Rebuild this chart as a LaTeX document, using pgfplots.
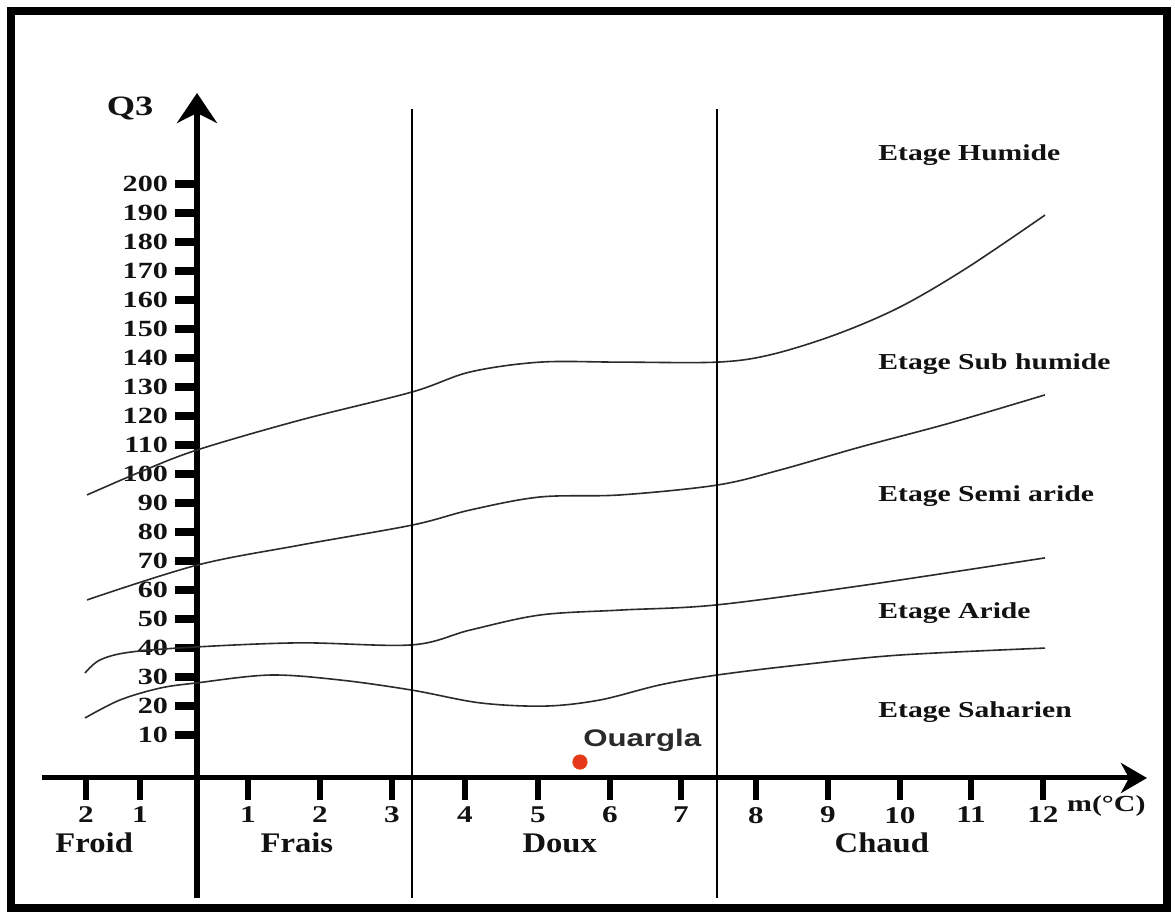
\documentclass[border=0pt]{standalone}
\usepackage{pgfplots}
\pgfplotsset{compat=1.18}
\usetikzlibrary{arrows.meta}
\usepackage{fontspec}
\setmainfont{Liberation Serif}[FakeStretch=1.3]
\newfontfamily\zonefont{Liberation Serif}[FakeStretch=1.15]
\newfontfamily\labelsans{Liberation Sans}[FakeStretch=1.3]

\definecolor{inkline}{HTML}{2B2B2B}
\definecolor{inktext}{HTML}{121212}
\definecolor{stationred}{HTML}{E5391B}

\begin{document}
\begin{tikzpicture}
% page and outer frame
\path[use as bounding box] (0,0) rectangle (587.5pt,459pt);
\draw[line width=4pt] (5.5pt,5pt) rectangle (583.5pt,453.5pt);

\begin{axis}[
  at={(21pt,10pt)}, anchor=south west,
  scale only axis, width=552.5pt, height=402.5pt,
  xmin=-2.141, xmax=13.122, ymin=-41.38, ymax=236.2,
  axis lines=middle,
  clip=false,
  axis line style={-},
  x axis line style={line width=2.5pt, -{Stealth[length=13pt,width=15pt,inset=4pt]}},
  y axis line style={line width=3pt, -{Stealth[length=15pt,width=20pt,inset=5pt]}},
  tick align=outside,
  major tick length=11pt,
  every tick/.append style={black},
  every x tick/.append style={line width=3.2pt},
  every y tick/.append style={line width=3.6pt},
  /pgf/number format/assume math mode=true,
  xtick={-1.533,-0.787,0.704,1.699,2.693,3.702,4.710,5.704,6.685,7.721,8.715,9.710,10.691,11.685},
  xticklabels={2,1,1,2,3,4,5,6,7,8,9,10,11,12},
  ytick={14.8,24.8,34.8,44.8,54.8,64.8,74.8,84.8,94.8,104.8,114.8,124.8,134.8,144.8,154.8,164.8,174.8,184.8,194.8,204.8},
  yticklabels={10,20,30,40,50,60,70,80,90,100,110,120,130,140,150,160,170,180,190,200},
  xticklabel style={font=\fontsize{12}{13}\selectfont\bfseries, text=inktext},
  yticklabel style={font=\fontsize{11.6}{13}\selectfont\bfseries, text=inktext},
]

% climatic zone boundaries
\addplot[inkline, line width=0.8pt, smooth, tension=0.55] coordinates {
  (-1.519,97.6) (-0.787,105.5) (0,113.1) (1.423,123.4) (2.970,133.1)
  (3.771,140.0) (4.738,143.4) (5.843,143.4) (7.182,143.4) (7.914,145.9)
  (8.812,152.8) (9.710,162.4) (10.635,175.9) (11.713,194.1)};
\addplot[inkline, line width=0.8pt, smooth, tension=0.55] coordinates {
  (-1.519,61.4) (0,73.4) (1.423,80.3) (2.970,87.2) (3.771,92.4)
  (4.738,96.9) (5.843,97.6) (7.182,101.0) (8.052,106.2) (9.157,114.1)
  (10.401,122.4) (11.713,132.1)};
\addplot[inkline, line width=0.8pt, smooth, tension=0.55] coordinates {
  (-1.547,36.2) (-1.340,40.7) (-0.925,43.4) (0,45.2) (1.423,46.6)
  (2.970,45.9) (3.771,51.0) (4.738,56.2) (5.843,57.9) (7.182,59.7)
  (9.254,66.6) (11.713,75.9)};
\addplot[inkline, line width=0.8pt, smooth, tension=0.55] coordinates {
  (-1.547,20.7) (-1.064,26.9) (-0.511,31.0) (0,32.8) (1.008,35.5)
  (1.975,33.8) (2.970,30.3) (3.909,25.9) (4.807,24.8) (5.566,26.9)
  (6.395,32.1) (7.182,35.5) (8.329,39.0) (9.710,42.4) (11.713,44.8)};

% thermal variant boundaries
\addplot[black, line width=1.2pt] coordinates {(2.970,-41.38) (2.970,230.7)};
\addplot[black, line width=1.2pt] coordinates {(7.182,-41.38) (7.182,230.7)};

% station
\addplot[only marks, mark=*, mark size=3.6pt, draw=stationred!80!orange, fill=stationred] coordinates {(5.29,5.5)};
\node[text=inktext!90!white, font=\labelsans\fontsize{12}{14}\selectfont\bfseries, anchor=west, inner sep=0pt] at (axis cs:5.33,13.1) {Ouargla};

% axis names
\node[text=inktext, font=\fontsize{14}{16}\selectfont\bfseries] at (axis cs:-0.925,231) {Q3};
\node[text=inktext, font=\fontsize{11.5}{12}\selectfont\bfseries] at (axis cs:12.56,-9.7) {m(\textdegree C)};

% thermal variants
\begin{scope}[every node/.style={text=inktext, font=\zonefont\fontsize{14.2}{16}\selectfont\bfseries}]
\node at (axis cs:-1.42,-22.4) {Froid};
\node at (axis cs:1.38,-22.4) {Frais};
\node at (axis cs:5.01,-22.4) {Doux};
\node at (axis cs:9.46,-22.4) {Chaud};
\end{scope}

% bioclimatic stages
\begin{scope}[every node/.style={text=inktext, font=\fontsize{11.4}{13}\selectfont\bfseries, anchor=west, inner sep=0pt}]
\node at (axis cs:9.406,214.8) {Etage Humide};
\node at (axis cs:9.406,142.8) {Etage Sub humide};
\node at (axis cs:9.406,97.2) {Etage Semi aride};
\node at (axis cs:9.406,56.9) {Etage Aride};
\node at (axis cs:9.406,22.8) {Etage Saharien};
\end{scope}
\end{axis}
\end{tikzpicture}
\end{document}
